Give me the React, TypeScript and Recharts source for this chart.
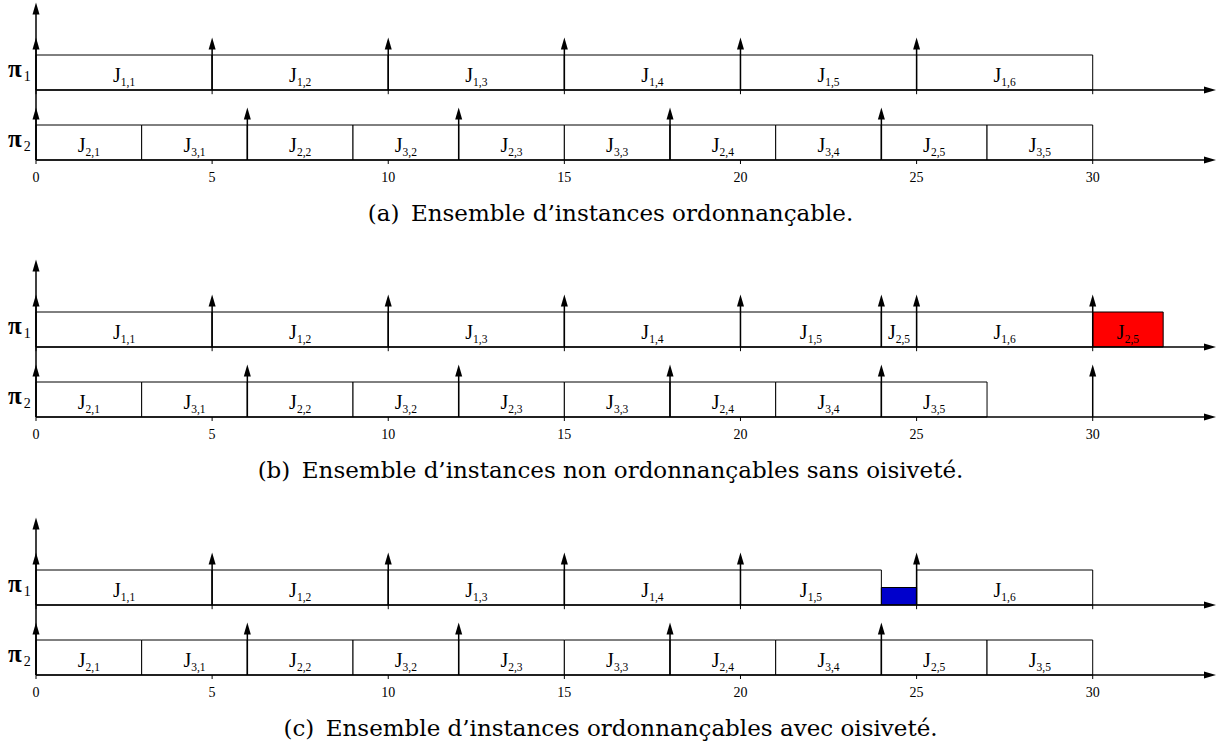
import React from "react";
import { ScatterChart, Scatter, XAxis, YAxis, ReferenceArea, ReferenceLine } from "recharts";

// [label, start, end]
type Job = [string, number, number];

const xTicks = [0, 5, 10, 15, 20, 25, 30];
const captions = [
  "(a)\u2002Ensemble d\u2019instances ordonnançable.",
  "(b)\u2002Ensemble d\u2019instances non ordonnançables sans oisiveté.",
  "(c)\u2002Ensemble d\u2019instances ordonnançables avec oisiveté.",
];

// (a) schedulable
const releasesA1 = [0, 5, 10, 15, 20, 25];
const releasesA2 = [0, 6, 12, 18, 24];
const jobsA1: Job[] = [["1,1", 0, 5], ["1,2", 5, 10], ["1,3", 10, 15], ["1,4", 15, 20], ["1,5", 20, 25], ["1,6", 25, 30]];
const jobsA2: Job[] = [
  ["2,1", 0, 3], ["3,1", 3, 6], ["2,2", 6, 9], ["3,2", 9, 12], ["2,3", 12, 15],
  ["3,3", 15, 18], ["2,4", 18, 21], ["3,4", 21, 24], ["2,5", 24, 27], ["3,5", 27, 30],
];

// (b) not schedulable without idling
const releasesB1 = [0, 5, 10, 15, 20, 24, 25, 30];
const releasesB2 = [0, 6, 12, 18, 24, 30];
const jobsB1: Job[] = [["1,1", 0, 5], ["1,2", 5, 10], ["1,3", 10, 15], ["1,4", 15, 20], ["1,5", 20, 24], ["2,5", 24, 25], ["1,6", 25, 30]];
const lateB1: Job[] = [["2,5", 30, 32]];
const jobsB2: Job[] = [
  ["2,1", 0, 3], ["3,1", 3, 6], ["2,2", 6, 9], ["3,2", 9, 12], ["2,3", 12, 15],
  ["3,3", 15, 18], ["2,4", 18, 21], ["3,4", 21, 24], ["3,5", 24, 27],
];

// (c) schedulable with idling
const releasesC1 = [0, 5, 10, 15, 20, 25];
const releasesC2 = [0, 6, 12, 18, 24];
const jobsC1: Job[] = [["1,1", 0, 5], ["1,2", 5, 10], ["1,3", 10, 15], ["1,4", 15, 20], ["1,5", 20, 24], ["1,6", 25, 30]];
const idleC1: Job[] = [["", 24, 25]];
const jobsC2: Job[] = jobsA2;

const SERIF = "'Liberation Serif', 'Times New Roman', serif";
const X_MAX = 33.5;
const Y_MAX = 4.5;
const BASE1 = 2; // π1 baseline
const BASE2 = 0; // π2 baseline

type Box = { label: string; start: number; end: number; base: number; top: number; fill: string };

const toBoxes = (jobs: Job[], base: number, fill = "#ffffff", h = 1): Box[] =>
  jobs.map(([label, start, end]) => ({ label, start, end, base, top: base + h, fill }));

const arrowShape = (props: any) => {
  const { x1, y1, x2, y2 } = props;
  const dx = x2 - x1;
  const dy = y2 - y1;
  const len = Math.hypot(dx, dy) || 1;
  const ux = dx / len;
  const uy = dy / len;
  const L = 12;
  const W = 3.5;
  const bx = x2 - ux * L;
  const by = y2 - uy * L;
  const pts = `${x2},${y2} ${bx - uy * W},${by + ux * W} ${bx + uy * W},${by - ux * W}`;
  return (
    <g>
      <line x1={x1} y1={y1} x2={bx + ux * 2} y2={by + uy * 2} stroke="#000" strokeWidth={1.5} />
      <polygon points={pts} fill="#000" />
    </g>
  );
};

const JobLabel = (props: any) => {
  const { cx, cy, payload } = props;
  if (!payload.label) return <g />;
  return (
    <text x={cx} y={cy + 9.5} textAnchor="middle" fontFamily={SERIF} fill="#000">
      <tspan fontSize={20}>J</tspan>
      <tspan fontSize={11.5} dy={4}>{payload.label}</tspan>
    </text>
  );
};

const ProcTick = (props: any) => {
  const { y, payload } = props;
  const name = payload.value > 2 ? "1" : "2";
  return (
    <text x={8} y={y + 4} fontFamily={SERIF} fill="#000">
      <tspan fontSize={25} fontWeight="bold">π</tspan>
      <tspan fontSize={14} dx={2} dy={4}>{name}</tspan>
    </text>
  );
};

type PanelDef = { rel1: number[]; rel2: number[]; boxes: Box[] };

const panels: PanelDef[] = [
  { rel1: releasesA1, rel2: releasesA2, boxes: [...toBoxes(jobsA1, BASE1), ...toBoxes(jobsA2, BASE2)] },
  {
    rel1: releasesB1,
    rel2: releasesB2,
    boxes: [...toBoxes(jobsB1, BASE1), ...toBoxes(lateB1, BASE1, "#ff0000"), ...toBoxes(jobsB2, BASE2)],
  },
  {
    rel1: releasesC1,
    rel2: releasesC2,
    boxes: [...toBoxes(jobsC1, BASE1), ...toBoxes(idleC1, BASE1, "#0000cc", 0.5), ...toBoxes(jobsC2, BASE2)],
  },
];

const Panel = ({ p }: { p: PanelDef }) => {
  const labels = p.boxes.map((b) => ({ x: (b.start + b.end) / 2, y: b.base + 0.5, label: b.label }));
  return (
    <ScatterChart width={1221} height={200} margin={{ top: 2.5, right: 5, bottom: 0, left: 0 }}>
      <XAxis
        type="number"
        dataKey="x"
        domain={[0, X_MAX]}
        ticks={xTicks}
        allowDataOverflow
        axisLine={false}
        tickLine={{ stroke: "#000" }}
        tickSize={4}
        tickMargin={8}
        height={40}
        tick={{ fontFamily: SERIF, fontSize: 14, fill: "#000" }}
      />
      <YAxis
        type="number"
        dataKey="y"
        domain={[0, Y_MAX]}
        ticks={[BASE2 + 0.5, BASE1 + 0.5]}
        allowDataOverflow
        width={36}
        axisLine={false}
        tickLine={false}
        tick={<ProcTick />}
      />
      {p.boxes.map((b, i) => (
        <ReferenceArea
          key={`b${i}`}
          x1={b.start}
          x2={b.end}
          y1={b.base}
          y2={b.top}
          fill={b.fill}
          fillOpacity={1}
          stroke="#000"
          strokeWidth={1}
          ifOverflow="visible"
        />
      ))}
      {/* π1 tick marks */}
      {xTicks.map((t) => (
        <ReferenceLine key={`t${t}`} segment={[{ x: t, y: BASE1 }, { x: t, y: BASE1 - 0.12 }]} stroke="#000" ifOverflow="visible" />
      ))}
      {/* baselines with arrows */}
      {[BASE1, BASE2].map((b) => (
        <ReferenceLine key={`h${b}`} segment={[{ x: 0, y: b }, { x: X_MAX, y: b }]} shape={arrowShape} ifOverflow="visible" />
      ))}
      {/* vertical axis */}
      <ReferenceLine segment={[{ x: 0, y: 0 }, { x: 0, y: Y_MAX }]} shape={arrowShape} ifOverflow="visible" />
      {/* release arrows */}
      {p.rel1.map((r) => (
        <ReferenceLine key={`r1${r}`} segment={[{ x: r, y: BASE1 }, { x: r, y: BASE1 + 1.5 }]} shape={arrowShape} ifOverflow="visible" />
      ))}
      {p.rel2.map((r) => (
        <ReferenceLine key={`r2${r}`} segment={[{ x: r, y: BASE2 }, { x: r, y: BASE2 + 1.5 }]} shape={arrowShape} ifOverflow="visible" />
      ))}
      <Scatter data={labels} shape={<JobLabel />} isAnimationActive={false} />
    </ScatterChart>
  );
};

export default function App() {
  return (
    <div style={{ position: "absolute", left: 0, top: 0, width: 1221, height: 749, background: "#fff" }}>
      {panels.map((p, i) => (
        <div key={i} style={{ position: "absolute", left: 0, top: [0, 257, 515][i], width: 1221 }}>
          <Panel p={p} />
          <div
            style={{
              position: "absolute",
              top: 199,
              left: 0,
              width: 1221,
              height: 28,
              lineHeight: "28px",
              textAlign: "center",
              fontFamily: "'DejaVu Serif', serif",
              fontSize: 23,
              color: "#000",
            }}
          >
            {captions[i]}
          </div>
        </div>
      ))}
    </div>
  );
}
